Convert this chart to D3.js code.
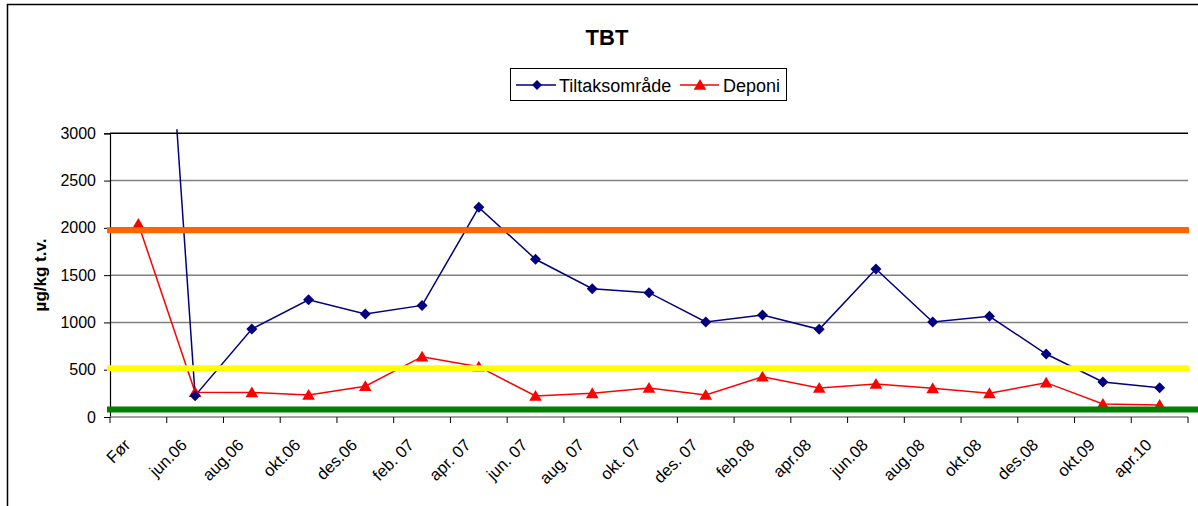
<!DOCTYPE html>
<html>
<head>
<meta charset="utf-8">
<script src="https://cdn.jsdelivr.net/npm/d3@7"></script>
<style>
  html, body { margin: 0; padding: 0; background: #fff; }
  svg { display: block; font-family: "Liberation Sans", Arial, sans-serif; }
</style>
</head>
<body>
<svg id="chart" width="1198" height="506"></svg>
<script>
const categories = ["Før", "jun.06", "aug.06", "okt.06", "des.06", "feb. 07", "apr. 07", "jun. 07", "aug. 07", "okt. 07", "des. 07", "feb.08", "apr.08", "jun.08", "aug.08", "okt.08", "des.08", "okt.09", "apr.10"];
const tiltaksomrade = [9000, 225, 930, 1240, 1090, 1180, 2217, 1668, 1357, 1315, 1005, 1079, 927, 1565, 1005, 1065, 666, 370, 310];
const deponi = [2041, 262, 260, 233, 325, 638, 532, 222, 250, 307, 233, 426, 307, 349, 303, 250, 363, 137, 127];
const yTicks = [0, 500, 1000, 1500, 2000, 2500, 3000];
const thresholdValues = [1975, 515, 80];
const thresholdColors = ["#FF6600", "#FFFF00", "#008000"];
const seriesNames = ["Tiltaksområde", "Deponi"];

(function () {
const svg = d3.select("#chart");
const pL = 110, pR = 1188, pT = 133.3, pB = 417;

// outer frame
svg.append("rect").attr("x", 7.5).attr("y", 4.5).attr("width", 1300).attr("height", 600)
  .attr("fill", "none").attr("stroke", "#000").attr("stroke-width", 1.5);

const x = d3.scaleBand().domain(categories).range([pL, pR]).padding(0);
const y = d3.scaleLinear().domain([0, 3000]).range([pB, pT]);

// title
svg.append("text").attr("x", 607).attr("y", 45).attr("text-anchor", "middle")
  .attr("font-weight", "bold").attr("font-size", 22).text("TBT");

// gridlines
svg.append("g").selectAll("line").data(yTicks.filter(d => d > 0)).join("line")
  .attr("x1", pL).attr("x2", pR).attr("y1", d => y(d)).attr("y2", d => y(d))
  .attr("stroke", d => d === 3000 ? "#000" : "#808080").attr("stroke-width", 1.5);

// y axis
const yAxis = d3.axisLeft(y).tickValues(yTicks).tickSize(6).tickPadding(8).tickFormat(d3.format("d"));
const gy = svg.append("g").attr("transform", `translate(${pL},0)`).call(yAxis);
gy.select(".domain").attr("stroke", "#000").attr("stroke-width", 1.2);
gy.selectAll(".tick line").attr("stroke", "#000");
gy.selectAll("text").attr("font-size", 16).attr("fill", "#000").attr("font-family", "Liberation Sans, Arial, sans-serif");

// y axis title
svg.append("text").attr("transform", "translate(46,275) rotate(-90)").attr("text-anchor", "middle")
  .attr("font-weight", "bold").attr("font-size", 17).text("µg/kg t.v.");

// x axis
svg.append("line").attr("x1", pL).attr("x2", pR).attr("y1", pB).attr("y2", pB)
  .attr("stroke", "#808080").attr("stroke-width", 1.5);
const edges = categories.map(c => x(c)).concat([pR]);
svg.append("g").selectAll("line").data(edges).join("line")
  .attr("x1", d => d).attr("x2", d => d).attr("y1", pB).attr("y2", pB + 6)
  .attr("stroke", "#000").attr("stroke-width", 1);
svg.append("g").selectAll("text").data(categories).join("text")
  .attr("transform", d => `translate(${x(d) + x.bandwidth() / 2 - 7},${pB + 29}) rotate(-45)`)
  .attr("text-anchor", "end").attr("font-size", 16.5).text(d => d);

// clip
svg.append("clipPath").attr("id", "plotclip").append("rect")
  .attr("x", pL).attr("y", pT - 4).attr("width", pR - pL + 2).attr("height", pB - pT + 10);

const cx = d => x(d) + x.bandwidth() / 2;
const plot = svg.append("g").attr("clip-path", "url(#plotclip)");
const line = d3.line().x(d => cx(d[0])).y(d => y(d[1]));

const blueData = categories.map((c, i) => [c, tiltaksomrade[i]]);
const redData = categories.map((c, i) => [c, deponi[i]]);

plot.append("path").datum(redData).attr("d", line).attr("fill", "none").attr("stroke", "#FF0000").attr("stroke-width", 1.5);
plot.append("path").datum(blueData).attr("d", line).attr("fill", "none").attr("stroke", "#000080").attr("stroke-width", 1.5);

function diamondPath(s) { return `M0,${-s}L${s},0L0,${s}L${-s},0Z`; }
function triPath(s) { return `M0,${-s}L${s*1.05},${s*0.8}L${-s*1.05},${s*0.8}Z`; }

plot.append("g").selectAll("path").data(redData).join("path")
  .attr("transform", d => `translate(${cx(d[0])},${y(d[1])})`)
  .attr("d", triPath(6)).attr("fill", "#FF0000");
plot.append("g").selectAll("path").data(blueData).join("path")
  .attr("transform", d => `translate(${cx(d[0])},${y(d[1])})`)
  .attr("d", diamondPath(5.5)).attr("fill", "#000080");

// threshold lines (drawn on top)
svg.append("g").selectAll("line").data(thresholdValues).join("line")
  .attr("x1", pL - 3).attr("x2", (d, i) => i === 2 ? 1198 : pR + 1)
  .attr("y1", d => y(d)).attr("y2", d => y(d))
  .attr("stroke", (d, i) => thresholdColors[i]).attr("stroke-width", 6);

// legend
const lg = svg.append("g");
lg.append("rect").attr("x", 510.5).attr("y", 68.5).attr("width", 276).attr("height", 32)
  .attr("fill", "#fff").attr("stroke", "#000").attr("stroke-width", 1);
const ly = 85;
lg.append("line").attr("x1", 516).attr("x2", 556).attr("y1", ly).attr("y2", ly).attr("stroke", "#000080").attr("stroke-width", 1.5);
lg.append("path").attr("transform", `translate(537,${ly})`).attr("d", diamondPath(5)).attr("fill", "#000080");
lg.append("text").attr("x", 559).attr("y", ly + 6.5).attr("font-size", 18).text(seriesNames[0]);
lg.append("line").attr("x1", 680).attr("x2", 719).attr("y1", ly).attr("y2", ly).attr("stroke", "#FF0000").attr("stroke-width", 1.5);
lg.append("path").attr("transform", `translate(700,${ly})`).attr("d", triPath(6)).attr("fill", "#FF0000");
lg.append("text").attr("x", 723).attr("y", ly + 6.5).attr("font-size", 18).text(seriesNames[1]);
})();
</script>
</body>
</html>
